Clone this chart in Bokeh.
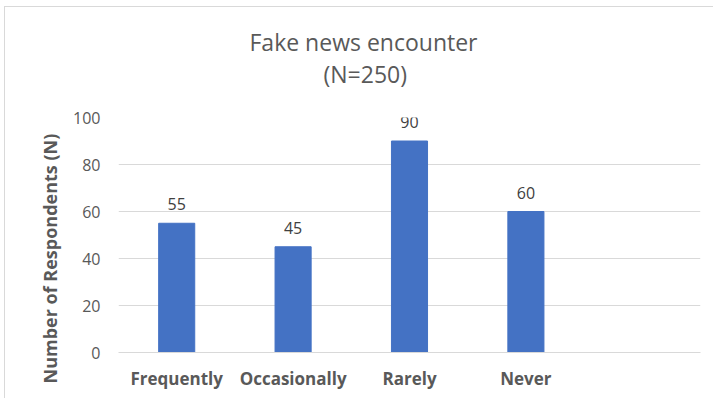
from bokeh.plotting import figure
from bokeh.models import ColumnDataSource, FactorRange, Range1d, LabelSet, FixedTicker, Title
from bokeh.core.properties import value
from bokeh.embed import file_html
from bokeh.resources import INLINE

title_line1 = "Fake news encounter"
title_line2 = "(N=250)"
y_label = "Number of Respondents (N)"
categories = ["Frequently", "Occasionally", "Rarely", "Never"]
counts = [55, 45, 90, 60]
y_ticks = [0, 20, 40, 60, 80, 100]

FONT = "Open Sans"
GRAY = "#595959"

factors = categories + [" "]
src = ColumnDataSource(dict(cat=categories, n=counts, lbl=[str(v) for v in counts]))

p = figure(x_range=FactorRange(*factors, range_padding=0), y_range=Range1d(0, 100),
           width=709, height=392, output_backend="svg", toolbar_location=None,
           min_border_left=113, min_border_right=14, min_border_top=110, min_border_bottom=47)
p.styles = {"margin-left": "4px", "margin-top": "6px",
            "border-left": "1px solid #d9d9d9", "border-top": "1px solid #d9d9d9"}
p.outline_line_color = None
p.background_fill_color = "white"
p.border_fill_color = "white"

p.vbar(x="cat", top="n", width=0.31, source=src, color="#4472C4")

p.add_layout(LabelSet(x="cat", y="n", text="lbl", source=src, text_align="center",
                      text_baseline="bottom", y_offset=13, text_font=value(FONT),
                      text_font_size="16px", text_color="#404040"))

p.xgrid.grid_line_color = None
p.ygrid.grid_line_color = "#d9d9d9"
p.yaxis.ticker = FixedTicker(ticks=y_ticks)
p.yaxis.axis_line_color = None
p.yaxis.major_tick_line_color = None
p.yaxis.minor_tick_line_color = None
p.yaxis.major_tick_out = 0
p.yaxis.major_tick_in = 0
p.yaxis.major_label_standoff = 18
p.yaxis.major_label_text_font = FONT
p.yaxis.major_label_text_font_size = "16px"
p.yaxis.major_label_text_color = GRAY

p.xaxis.axis_line_color = "#d9d9d9"
p.xaxis.major_tick_line_color = None
p.xaxis.minor_tick_line_color = None
p.xaxis.major_tick_out = 0
p.xaxis.major_tick_in = 0
p.xaxis.major_label_standoff = 14
p.xaxis.major_label_text_font = FONT
p.xaxis.major_label_text_font_size = "17px"
p.xaxis.major_label_text_font_style = "bold"
p.xaxis.major_label_text_color = GRAY

p.add_layout(Title(text=title_line2, align="left", offset=205, standoff=56, text_font=FONT,
                   text_font_size="23px", text_font_style="normal", text_color=GRAY), "above")
p.add_layout(Title(text=title_line1, align="left", offset=131, standoff=-60, text_font=FONT,
                   text_font_size="23px", text_font_style="normal", text_color=GRAY), "above")
p.add_layout(Title(text=y_label, align="left", offset=-31, standoff=18, text_font=FONT,
                   text_font_size="18px", text_font_style="bold", text_color=GRAY), "left")

open("out.html", "w").write(file_html(p, INLINE))
